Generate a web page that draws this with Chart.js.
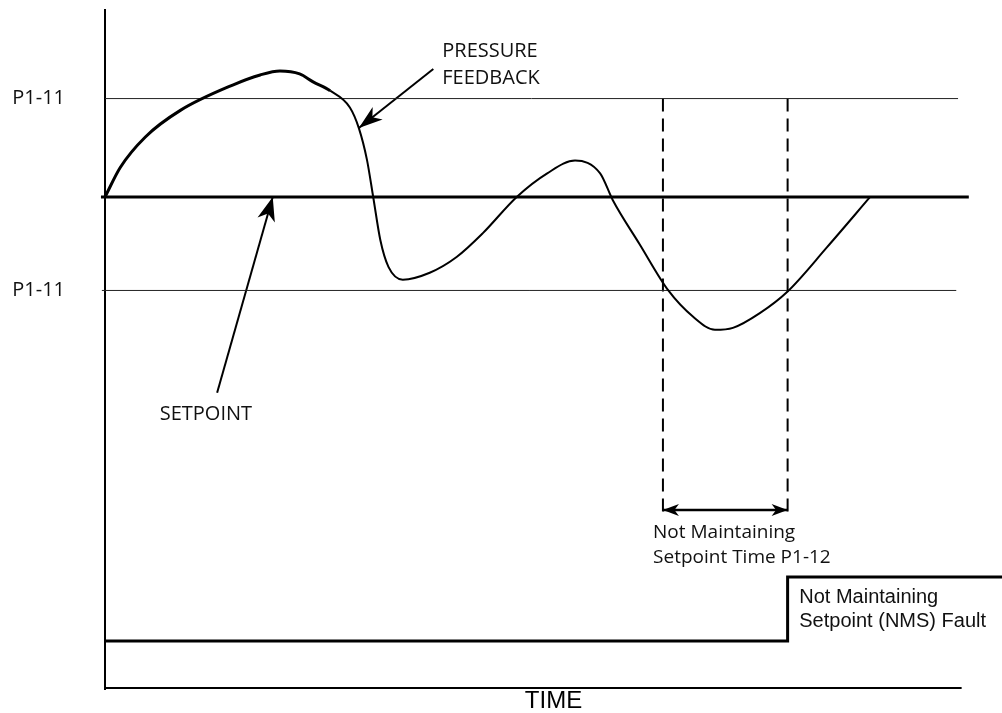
<!DOCTYPE html>
<html>
<head>
<meta charset="utf-8">
<title>Not Maintaining Setpoint</title>
<script src="https://cdn.jsdelivr.net/npm/chart.js@4.4.1/dist/chart.umd.min.js"></script>
<style>
  html, body { margin: 0; padding: 0; background: #fff; }
  canvas { display: block; }
</style>
</head>
<body>
<canvas id="nmsChart" width="1002" height="713"></canvas>
<script>
// pressure feedback trace (time units / pressure units)
var feedbackTime = [0, 1.7, 4.5, 8.4, 14.3, 17.3, 19.5, 21.7, 23.2, 25.1, 27.3, 28.3, 29.2, 29.9, 30.7, 31.6, 33.2, 36.2, 39.2, 42.1, 45.9, 49.3, 52.4, 55.2, 56.6, 59.6, 62.8, 65.6, 68.0, 70.0, 73.0, 76.1, 80.5, 85.3];
var feedbackValue = [50, 53.0, 56.1, 58.8, 61.4, 62.4, 62.8, 62.5, 61.7, 60.8, 59.1, 57.0, 53.8, 50.0, 45.6, 42.9, 41.6, 42.3, 43.9, 46.3, 50.0, 52.4, 53.7, 52.4, 49.7, 45.2, 40.5, 37.8, 36.5, 36.7, 38.2, 40.4, 44.9, 50.0];

// setpoint and the P1-11 window around it
var setpointValue = 50;
var setpointTime = [-0.45, 96.3];
var bandHigh = 60;
var bandLow = 40.5;
var bandHighTime = [0, 95.1];
var bandLowTime = [-0.35, 94.9];
var bandLabels = ['P1-11', 'P1-11'];

// P1-12 timer and the NMS fault output
var timerStart = 62.2;
var timerEnd = 76.1;
var timerBottom = 18;
var timerArrowValue = 18.2;
var faultTime = [0, 76.1, 100];
var faultState = [0, 1, 1];

// pointer arrows [tail, tip]
var feedbackArrowTime = [36.6, 28.3];
var feedbackArrowValue = [63.0, 57.0];
var setpointArrowTime = [12.5, 18.7];
var setpointArrowValue = [30.1, 50.0];

var timeAxisEnd = 95.5;

function pts(xs, ys) {
  return xs.map(function (x, i) { return { x: x, y: ys[i] }; });
}

// text labels, placed in data units
var notes = [
  { lines: ['PRESSURE', 'FEEDBACK'], x: 37.6, y: 64.2, axis: 'y', font: '20px "Open Sans"', lh: 27 },
  { lines: ['SETPOINT'], x: 6.1, y: 27.3, axis: 'y', font: '20px "Open Sans"', lh: 27 },
  { lines: ['Not Maintaining', 'Setpoint Time P1-12'], x: 61.1, y: 15.35, axis: 'y', font: '19px "Open Sans"', lh: 25 },
  { lines: ['Not Maintaining', 'Setpoint (NMS) Fault'], x: 77.4, y: 0.59, axis: 'yFault', font: '20px "Liberation Sans"', lh: 24 }
];

function drawHead(ctx, from, to, len, half) {
  var ang = Math.atan2(to.y - from.y, to.x - from.x);
  ctx.save();
  ctx.translate(to.x, to.y);
  ctx.rotate(ang);
  ctx.beginPath();
  ctx.moveTo(0, 0);
  ctx.lineTo(-len, -half);
  ctx.lineTo(-len * 0.72, 0);
  ctx.lineTo(-len, half);
  ctx.closePath();
  ctx.fillStyle = '#000';
  ctx.fill();
  ctx.restore();
}

var arrowHeads = {
  id: 'arrowHeads',
  afterDatasetsDraw: function (chart) {
    var ctx = chart.ctx;
    chart.data.datasets.forEach(function (ds, i) {
      if (!ds.arrow) return;
      var el = chart.getDatasetMeta(i).data;
      var a = el[0], b = el[el.length - 1];
      drawHead(ctx, a, b, ds.arrowLen, ds.arrowHalf);
      if (ds.arrow === 'both') drawHead(ctx, b, a, ds.arrowLen, ds.arrowHalf);
    });
  }
};

// x axis line stops short of the right edge
var timeAxisLine = {
  id: 'timeAxisLine',
  beforeDatasetsDraw: function (chart) {
    var ctx = chart.ctx, x = chart.scales.x, area = chart.chartArea;
    ctx.save();
    ctx.strokeStyle = '#000';
    ctx.lineWidth = 2;
    ctx.beginPath();
    ctx.moveTo(x.getPixelForValue(0) - 1, area.bottom - 1);
    ctx.lineTo(x.getPixelForValue(timeAxisEnd), area.bottom - 1);
    ctx.stroke();
    ctx.restore();
  }
};

var noteText = {
  id: 'noteText',
  afterDraw: function (chart) {
    var ctx = chart.ctx;
    ctx.save();
    ctx.fillStyle = '#111';
    ctx.textAlign = 'left';
    ctx.textBaseline = 'alphabetic';
    notes.forEach(function (n) {
      var px = chart.scales.x.getPixelForValue(n.x);
      var py = chart.scales[n.axis].getPixelForValue(n.y);
      ctx.font = n.font;
      n.lines.forEach(function (t, k) { ctx.fillText(t, px, py + k * n.lh); });
    });
    ctx.restore();
  }
};

function build() {
  var ctx = document.getElementById('nmsChart').getContext('2d');
  new Chart(ctx, {
    type: 'line',
    data: {
      datasets: [
        {
          label: 'Pressure feedback',
          data: pts(feedbackTime, feedbackValue),
          borderColor: '#000',
          borderWidth: 2,
          cubicInterpolationMode: 'monotone',
          segment: { borderWidth: function (c) { return c.p0DataIndex < 9 ? 3 : 2; } }
        },
        {
          label: 'Setpoint',
          data: pts(setpointTime, [setpointValue, setpointValue]),
          borderColor: '#000', borderWidth: 3
        },
        {
          label: 'P1-11 high',
          data: pts(bandHighTime, [bandHigh, bandHigh]),
          borderColor: '#222', borderWidth: 1
        },
        {
          label: 'P1-11 low',
          data: pts(bandLowTime, [bandLow, bandLow]),
          borderColor: '#222', borderWidth: 1
        },
        {
          label: 'Timer start',
          data: pts([timerStart, timerStart], [bandHigh, timerBottom]),
          borderColor: '#000', borderWidth: 2, borderDash: [13, 7]
        },
        {
          label: 'Timer end',
          data: pts([timerEnd, timerEnd], [bandHigh, timerBottom]),
          borderColor: '#000', borderWidth: 2, borderDash: [13, 7]
        },
        {
          label: 'P1-12',
          data: pts([timerStart, timerEnd], [timerArrowValue, timerArrowValue]),
          borderColor: '#000', borderWidth: 2.5,
          arrow: 'both', arrowLen: 16, arrowHalf: 6
        },
        {
          label: 'Feedback pointer',
          data: pts(feedbackArrowTime, feedbackArrowValue),
          borderColor: '#000', borderWidth: 2,
          arrow: 'end', arrowLen: 24, arrowHalf: 8
        },
        {
          label: 'Setpoint pointer',
          data: pts(setpointArrowTime, setpointArrowValue),
          borderColor: '#000', borderWidth: 2,
          arrow: 'end', arrowLen: 24, arrowHalf: 9
        },
        {
          label: 'NMS fault',
          data: pts(faultTime, faultState),
          yAxisID: 'yFault',
          stepped: true,
          borderColor: '#000', borderWidth: 3
        }
      ]
    },
    options: {
      responsive: false,
      animation: false,
      events: [],
      layout: { padding: { top: 10 } },
      datasets: { line: { clip: false, pointRadius: 0, fill: false } },
      plugins: { legend: { display: false }, tooltip: { enabled: false } },
      scales: {
        x: {
          type: 'linear', min: 0, max: 100,
          grid: { display: false, drawTicks: false },
          border: { display: false },
          ticks: { display: false },
          title: {
            display: true, text: 'TIME', color: '#000', padding: 0,
            font: { family: '"Liberation Sans", Arial, sans-serif', size: 24, lineHeight: 1 }
          },
          afterFit: function (s) { s.height = 24; s.paddingLeft = 0; s.paddingRight = 0; }
        },
        y: {
          type: 'linear', min: 0, max: 69,
          grid: { display: false, drawTicks: false },
          border: { display: true, color: '#000', width: 2 },
          ticks: {
            color: '#111', padding: 40,
            font: { family: '"Open Sans", sans-serif', size: 20 },
            callback: function (v, i) { return bandLabels[i]; }
          },
          afterBuildTicks: function (s) { s.ticks = [{ value: bandLow }, { value: bandHigh }]; },
          afterFit: function (s) { s.width = 105; s.paddingTop = 0; s.paddingBottom = 0; }
        },
        yFault: { type: 'linear', display: false, min: -0.75, max: 9.86 }
      }
    },
    plugins: [timeAxisLine, arrowHeads, noteText]
  });
}

if (document.fonts && document.fonts.load) {
  Promise.all([
    document.fonts.load('20px "Open Sans"'),
    document.fonts.load('20px "Liberation Sans"')
  ]).then(build, build);
} else {
  build();
}
</script>
</body>
</html>
